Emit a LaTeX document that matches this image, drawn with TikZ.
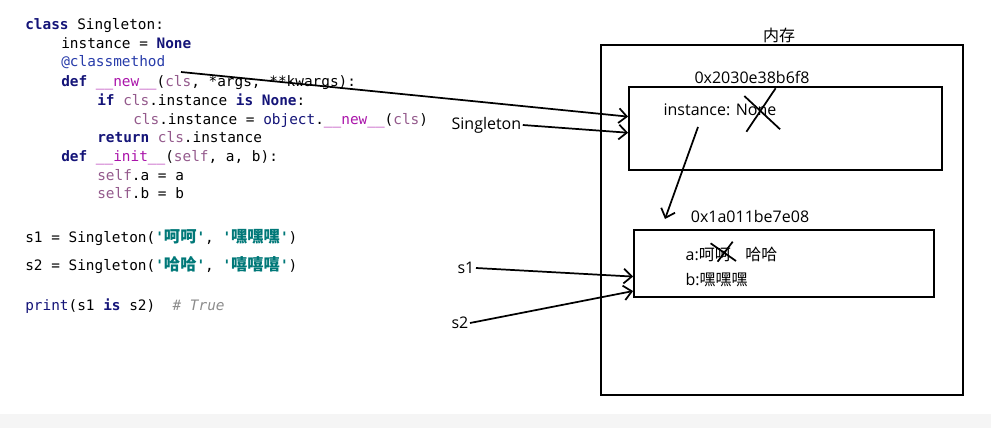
\documentclass[tikz,border=0pt]{standalone}
\usepackage{fontspec}
\setmainfont{Open Sans}
\setmonofont{DejaVu Sans Mono}
\newfontfamily\cjk{Noto Sans CJK SC}
\newfontfamily\cjkcode[Scale=1.13]{Noto Sans CJK SC}
\usetikzlibrary{arrows.meta,calc}

\definecolor{kw}{RGB}{20,20,120}
\definecolor{deco}{RGB}{40,60,170}
\definecolor{magic}{RGB}{170,20,170}
\definecolor{selfc}{RGB}{148,90,140}
\definecolor{strc}{RGB}{0,120,120}
\definecolor{cmt}{RGB}{140,140,140}

\newcommand{\kwd}[1]{{\bfseries\color{kw}#1}}
\newcommand{\mgc}[1]{{\color{magic}#1}}
\newcommand{\slf}[1]{{\color{selfc}#1}}
\newcommand{\strl}[1]{{\bfseries\color{strc}'{\cjkcode\bfseries #1}'}}

\begin{document}
\begin{tikzpicture}[x=0.75pt,y=-0.75pt,
  code/.style={anchor=base west,inner sep=0pt,font=\ttfamily\fontsize{10.8}{12}\selectfont},
  lbl/.style={inner sep=1pt,font=\fontsize{12}{14}\selectfont},
  box/.style={draw,line width=1.4pt,inner sep=0pt},
  ptr/.style={line width=1.3pt,-{Straight Barb[length=6pt,width=11pt]}},
  cross/.style={line width=1.3pt}]

\useasboundingbox (0,0) rectangle (991,428);
\fill[gray!8] (0,414) rectangle (991,428);

% the code
\node[code] (code1) at (25,30) {\kwd{class} Singleton:};
\node[code] (code2) at (61,49) {instance = \kwd{None}};
\node[code] (code3) at (61,67) {{\color{deco}@classmethod}};
\node[code] (code4) at (61,86) {\kwd{def} \mgc{\_\_new\_\_}(\slf{cls}, *args, **kwargs):};
\node[code] (code5) at (97,105) {\kwd{if} \slf{cls}.instance \kwd{is} \kwd{None}:};
\node[code] (code6) at (133,124) {\slf{cls}.instance = {\color{kw}object}.\mgc{\_\_new\_\_}(\slf{cls})};
\node[code] (code7) at (97,142) {\kwd{return} \slf{cls}.instance};
\node[code] (code8) at (61,161) {\kwd{def} \mgc{\_\_init\_\_}(\slf{self}, a, b):};
\node[code] (code9) at (97,180) {\slf{self}.a = a};
\node[code] (code10) at (97,198) {\slf{self}.b = b};
\node[code] (code11) at (25,242) {s1 = Singleton(\strl{呵呵}, \strl{嘿嘿嘿})};
\node[code] (code12) at (25,270) {s2 = Singleton(\strl{哈哈}, \strl{嘻嘻嘻})};
\node[code] (code13) at (25,310) {{\color{kw}print}(s1 \kwd{is} s2)\ \ {\itshape\color{cmt}\# True}};

% memory
\node[box,minimum width=271.5pt,minimum height=262.5pt] (mem) at (782,220) {};
\node[lbl] (memlbl) at (779,35) {\cjk 内存};
\node[box,minimum width=234.75pt,minimum height=62.25pt] (obj1) at (785.5,128.5) {};
\node[lbl] (addr1) at (752,77) {0x2030e38b6f8};
\node[lbl,anchor=west] (inst) at (662,110) {instance: None};
\node[box,minimum width=225pt,minimum height=50.25pt] (obj2) at (784,263.5) {};
\node[lbl] (addr2) at (750,216) {0x1a011be7e08};
\node[lbl,anchor=west] (fa) at (684,254) {a:{\cjk 呵呵}\hspace{11pt}{\cjk 哈哈}};
\node[lbl,anchor=west] (fb) at (684,280) {b:{\cjk 嘿嘿嘿}};

% names
\node[lbl,anchor=west] (clsname) at (450,125) {Singleton};
\node[lbl,anchor=west] (s1) at (456,268) {s1};
\node[lbl,anchor=west] (s2) at (450,323) {s2};

% strike-outs
\draw[cross] (775.6,88.3) -- (746.4,131.7);
\draw[cross] (744.3,96) -- (780.1,129.3);
\draw[cross] (710.6,243.3) -- (736,261);
\draw[cross] (732.7,241.7) -- (717.6,261.7);

% pointers
\coordinate (clsm) at (181,72);
\coordinate (instref) at (698,127);
\coordinate (obj2ref) at (665,219);
\draw[ptr] (clsm) -- ($(obj1.north west)!0.36!(obj1.south west)$);
\draw[ptr] (clsname.east) -- ($(obj1.north west)!0.55!(obj1.south west)$);
\draw[ptr] (instref) -- (obj2ref);
\draw[ptr] (s1.east) -- ($(obj2.north west)!0.69!(obj2.south west)$);
\draw[ptr] (s2.east) -- ($(obj2.north west)!0.9!(obj2.south west)$);

\end{tikzpicture}
\end{document}
